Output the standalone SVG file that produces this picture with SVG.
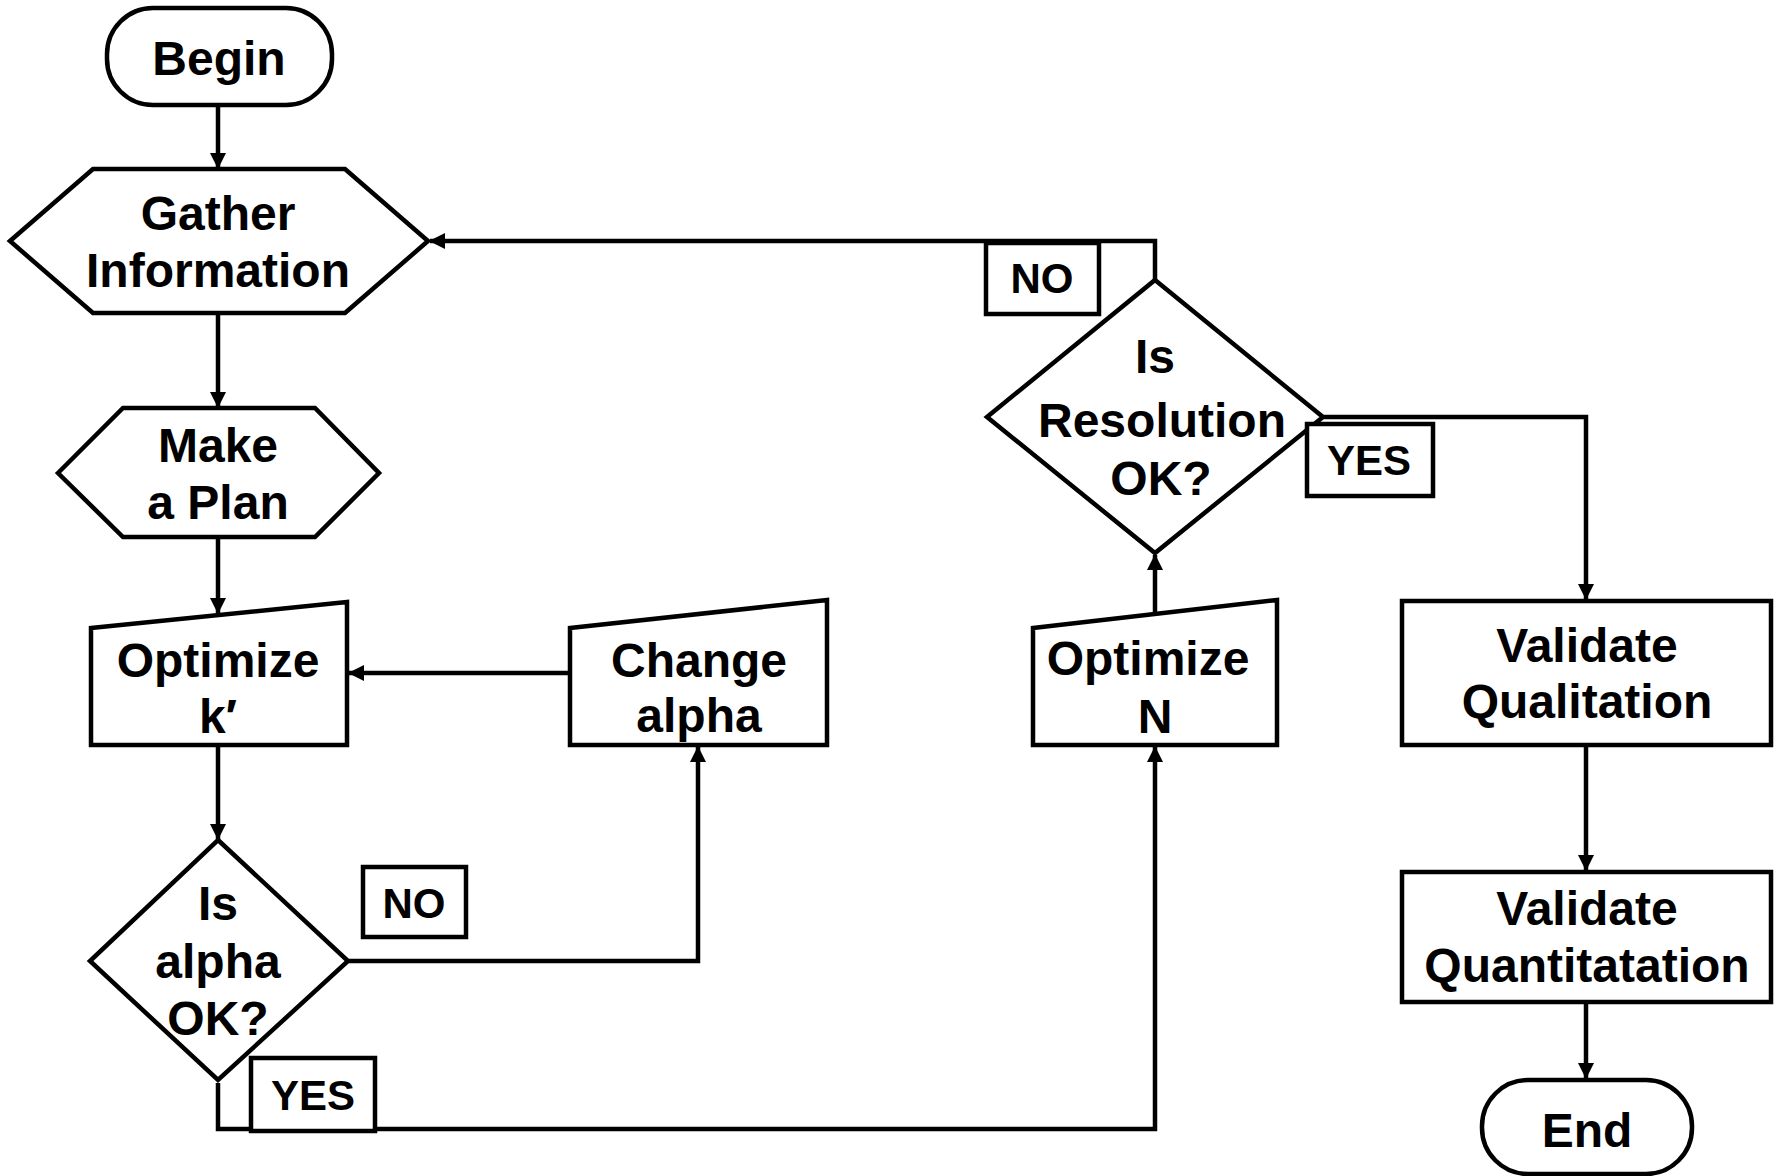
<svg xmlns="http://www.w3.org/2000/svg" width="1779" height="1176" viewBox="0 0 1779 1176">
<style>
.shape{fill:#fff;stroke:#000;stroke-width:4.5;stroke-linejoin:miter}
.conn{fill:none;stroke:#000;stroke-width:4.5;stroke-linejoin:miter}
.t{font-family:"Liberation Sans",Arial,sans-serif;font-weight:bold;font-size:48px;text-anchor:middle;fill:#000}
.lbl{font-family:"Liberation Sans",Arial,sans-serif;font-weight:bold;font-size:42px;text-anchor:middle;fill:#000}
</style>
<defs>
<marker id="arr" markerUnits="userSpaceOnUse" markerWidth="16" markerHeight="16" refX="15" refY="8" orient="auto">
<path d="M0,0 L16,8 L0,16 z" fill="#000"/>
</marker>
</defs>
<rect width="1779" height="1176" fill="#fff"/>
<g id="connectors">
<path class="conn" d="M218,106 L218,168" marker-end="url(#arr)"/>
<path class="conn" d="M218,314 L218,407" marker-end="url(#arr)"/>
<path class="conn" d="M218,537 L218,613" marker-end="url(#arr)"/>
<path class="conn" d="M218,747 L218,839" marker-end="url(#arr)"/>
<path class="conn" d="M349,961 L698,961 L698,747" marker-end="url(#arr)"/>
<path class="conn" d="M218,1083 L218,1129 L1155,1129 L1155,747" marker-end="url(#arr)"/>
<path class="conn" d="M570,673 L349,673" marker-end="url(#arr)"/>
<path class="conn" d="M1155,614 L1155,555" marker-end="url(#arr)"/>
<path class="conn" d="M1155,280 L1155,241 L430,241" marker-end="url(#arr)"/>
<path class="conn" d="M1324,417 L1586,417 L1586,599" marker-end="url(#arr)"/>
<path class="conn" d="M1586,745 L1586,870" marker-end="url(#arr)"/>
<path class="conn" d="M1586,1002 L1586,1078" marker-end="url(#arr)"/>
</g>
<g id="begin">
<rect class="shape" x="107" y="8" width="225" height="97" rx="46"/>
<text class="t" x="219" y="75">Begin</text>
</g>
<g id="gather">
<polygon class="shape" points="10,241 93,169 345,169 428,241 345,313 93,313"/>
<text class="t" x="218" y="230">Gather</text>
<text class="t" x="218" y="287">Information</text>
</g>
<g id="plan">
<polygon class="shape" points="58,473 123,408 315,408 379,473 315,537 123,537"/>
<text class="t" x="218" y="462">Make</text>
<text class="t" x="218" y="519">a Plan</text>
</g>
<g id="optk">
<polygon class="shape" points="91,628 347,602 347,745 91,745"/>
<text class="t" x="218" y="677">Optimize</text>
<text class="t" x="218" y="733">k′</text>
</g>
<g id="alphaok">
<polygon class="shape" points="218,840 348,961 218,1080 90,961"/>
<text class="t" x="218" y="920">Is</text>
<text class="t" x="218" y="978">alpha</text>
<text class="t" x="218" y="1035">OK?</text>
</g>
<g id="alpha-no">
<rect class="shape" x="363" y="867" width="103" height="70"/>
<text class="lbl" x="414" y="918">NO</text>
</g>
<g id="alpha-yes">
<rect class="shape" x="251" y="1058" width="124" height="73"/>
<text class="lbl" x="313" y="1110">YES</text>
</g>
<g id="changealpha">
<polygon class="shape" points="570,628 827,600 827,745 570,745"/>
<text class="t" x="699" y="677">Change</text>
<text class="t" x="699" y="732">alpha</text>
</g>
<g id="optn">
<polygon class="shape" points="1033,628 1277,600 1277,745 1033,745"/>
<text class="t" x="1148" y="675">Optimize</text>
<text class="t" x="1155" y="733">N</text>
</g>
<g id="resok">
<polygon class="shape" points="1155,280 1323,417 1155,553 987,417"/>
<text class="t" x="1155" y="373">Is</text>
<text class="t" x="1162" y="437">Resolution</text>
<text class="t" x="1161" y="495">OK?</text>
</g>
<g id="res-no">
<rect class="shape" x="986" y="243" width="113" height="71"/>
<text class="lbl" x="1042" y="293">NO</text>
</g>
<g id="res-yes">
<rect class="shape" x="1307" y="424" width="126" height="72"/>
<text class="lbl" x="1369" y="475">YES</text>
</g>
<g id="valqual">
<rect class="shape" x="1402" y="601" width="369" height="144"/>
<text class="t" x="1587" y="662">Validate</text>
<text class="t" x="1587" y="718">Qualitation</text>
</g>
<g id="valquant">
<rect class="shape" x="1402" y="872" width="369" height="130"/>
<text class="t" x="1587" y="925">Validate</text>
<text class="t" x="1587" y="982">Quantitatation</text>
</g>
<g id="end">
<rect class="shape" x="1482" y="1080" width="210" height="94" rx="46"/>
<text class="t" x="1587" y="1147">End</text>
</g>
</svg>
